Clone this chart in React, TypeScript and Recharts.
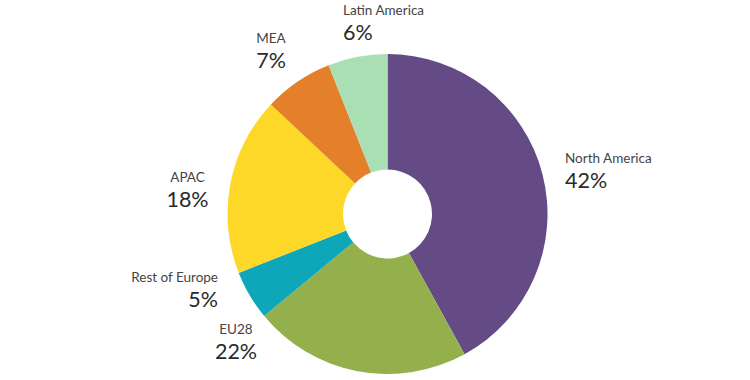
import React from 'react';
import { PieChart, Pie, Cell } from 'recharts';

const regions = ['North America', 'EU28', 'Rest of Europe', 'APAC', 'MEA', 'Latin America'];
const shares = [42, 22, 5, 18, 7, 6];
const sliceColors = ['#644b85', '#94b04c', '#0ea7b9', '#fdd829', '#e5802a', '#a9dfb3'];

// label placement relative to the pie centre (name baseline, percent sits 25px lower)
const labelLayout = [
  { dx: 177.5, dy: -51, anchor: 'start' },
  { dx: -151.5, dy: 120, anchor: 'middle' },
  { dx: -169.5, dy: 68, anchor: 'end' },
  { dx: -200, dy: -32, anchor: 'middle' },
  { dx: -116.5, dy: -171, anchor: 'middle' },
  { dx: -44.5, dy: -199, anchor: 'start' },
];

const data = regions.map((name, i) => ({ name, value: shares[i] }));

const renderLabel = (props: any) => {
  const { cx, cy, index } = props;
  const pos = labelLayout[index];
  const x = cx + pos.dx;
  const y = cy + pos.dy;
  return (
    <g>
      <text x={x} y={y} textAnchor={pos.anchor} fill="#444" fontSize={13.5} fontFamily="Lato, sans-serif">
        {regions[index]}
      </text>
      <text x={x} y={y + 25} textAnchor={pos.anchor} fill="#2a2a2a" fontSize={21.5} fontWeight={400} fontFamily="Lato, sans-serif">
        {shares[index]}%
      </text>
    </g>
  );
};

export default function App() {
  return (
    <div style={{ position: 'absolute', left: 0, top: 0, width: 750, height: 380, background: '#fff' }}>
      <PieChart width={750} height={380} margin={{ top: 0, right: 0, bottom: 0, left: 0 }}>
        <Pie
          data={data}
          dataKey="value"
          nameKey="name"
          cx={387.5}
          cy={214}
          innerRadius={44.5}
          outerRadius={160}
          startAngle={90}
          endAngle={-270}
          stroke="none"
          label={renderLabel}
          labelLine={false}
          isAnimationActive={false}
        >
          {data.map((d, i) => (
            <Cell key={d.name} fill={sliceColors[i]} />
          ))}
        </Pie>
      </PieChart>
    </div>
  );
}
